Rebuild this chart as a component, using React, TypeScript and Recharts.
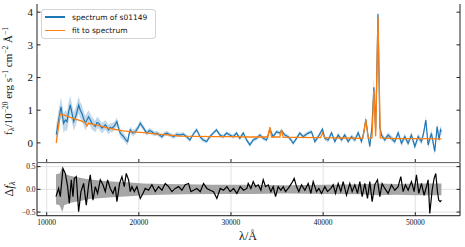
import React from 'react';
import { ComposedChart, Line, Area, XAxis, YAxis, CartesianGrid } from 'recharts';

// spectrum
const specWave = [
  11040, 11300, 11550, 11700, 11840, 12020, 12200, 12380, 12560, 12750, 12930, 13200, 13470, 13650, 13830,
  14000, 14190, 14370, 14550, 14730, 14910, 15100, 15280, 15460, 15640, 15820, 16000, 16180, 16360, 16540,
  16720, 16900, 17080, 17350, 17620, 17800, 17990, 18170, 18350, 18570, 18790, 18930, 19070, 19340, 19610,
  19880, 20160, 20340, 20520, 20700, 20880, 21150, 21420, 21690, 21960, 22230, 22510, 22780, 23050, 23400,
  23770, 24130, 24460, 24820, 25180, 25540, 25800, 26090, 26270, 26450, 26630, 26990, 27350, 27710, 28070,
  28430, 28800, 29160, 29520, 29880, 30240, 30600, 30960, 31330, 31690, 32050, 32410, 32770, 33130, 33500,
  33860, 34220, 34580, 34940, 35300, 35480, 35840, 36210, 36480, 36750, 37110, 37470, 37830, 38100, 38380,
  38740, 39100, 39460, 39930, 40180, 40550, 40910, 41270, 41630, 41990, 42350, 42710, 43080, 43440, 43800,
  44160, 44400, 44630, 44850, 45060, 45300, 45500, 45700, 45950, 46150, 46330, 46690, 47050, 47410, 47770,
  48140, 48500, 48860, 49220, 49580, 49950, 50310, 50670, 50900, 51140, 51390, 51750, 52110, 52370, 52580,
  52730, 52840,
];
const specFlux = [
  0.25, 0.7, 1.1, 0.85, 0.6, 0.7, 0.65, 0.95, 1.16, 0.9, 0.65, 0.85, 1.16, 1.0, 0.9,
  0.75, 0.6, 0.7, 0.8, 0.7, 0.6, 0.55, 0.5, 0.62, 0.6, 0.52, 0.45, 0.5, 0.55, 0.48,
  0.4, 0.48, 0.45, 0.52, 0.65, 0.45, 0.3, 0.24, 0.19, 0.1, 0.04, 0.25, 0.4, 0.3, 0.34,
  0.45, 0.6, 0.52, 0.45, 0.36, 0.3, 0.38, 0.34, 0.28, 0.3, 0.24, 0.19, 0.27, 0.3, 0.24,
  0.19, 0.26, 0.24, 0.27, 0.19, 0.09, 0.22, 0.34, 0.4, 0.3, 0.19, 0.09, 0.04, 0.19, 0.3,
  0.4, 0.24, 0.19, 0.3, 0.24, 0.19, 0.3, 0.14, 0.3, 0.09, -0.06, 0.09, 0.14, 0.24, 0.14,
  0.09, 0.42, 0.19, 0.34, 0.3, 0.38, 0.24, 0.19, 0.1, -0.01, 0.14, 0.3, 0.19, 0.25, 0.3,
  0.34, 0.04, 0.19, 0.42, 0.14, 0.09, 0.31, 0.04, 0.24, 0.09, 0.24, 0.04, 0.19, 0.09, 0.31,
  0.04, 0.3, 0.72, 0.25, -0.11, 0.5, 1.7, 0.4, 3.95, 0.5, 0.24, 0.09, 0.24, 0.14, 0.04,
  0.31, -0.01, 0.19, -0.01, 0.24, -0.11, 0.19, 0.04, 0.3, 0.7, -0.06, 0.29, -0.26, 0.5, 0.09,
  0.4, 0.35,
];
const specErr = [
  0.3, 0.3, 0.3, 0.3, 0.3, 0.3, 0.3, 0.3, 0.28, 0.28, 0.28, 0.28, 0.25, 0.25, 0.25,
  0.22, 0.22, 0.22, 0.2, 0.2, 0.2, 0.18, 0.18, 0.18, 0.16, 0.16, 0.16, 0.15, 0.15, 0.15,
  0.14, 0.14, 0.14, 0.13, 0.13, 0.12, 0.12, 0.12, 0.11, 0.11, 0.11, 0.1, 0.1, 0.1, 0.09,
  0.09, 0.09, 0.09, 0.08, 0.08, 0.08, 0.08, 0.08, 0.08, 0.07, 0.07, 0.07, 0.07, 0.07, 0.07,
  0.07, 0.07, 0.07, 0.06, 0.06, 0.06, 0.06, 0.06, 0.06, 0.06, 0.06, 0.06, 0.06, 0.06, 0.06,
  0.06, 0.06, 0.06, 0.06, 0.06, 0.06, 0.06, 0.06, 0.06, 0.06, 0.06, 0.06, 0.06, 0.06, 0.06,
  0.06, 0.07, 0.06, 0.06, 0.06, 0.06, 0.06, 0.06, 0.06, 0.06, 0.06, 0.06, 0.06, 0.06, 0.06,
  0.06, 0.07, 0.07, 0.07, 0.07, 0.07, 0.07, 0.07, 0.07, 0.07, 0.07, 0.07, 0.07, 0.08, 0.08,
  0.08, 0.08, 0.1, 0.08, 0.08, 0.1, 0.3, 0.1, 0.12, 0.1, 0.08, 0.08, 0.08, 0.08, 0.08,
  0.08, 0.09, 0.09, 0.09, 0.09, 0.1, 0.1, 0.1, 0.1, 0.12, 0.12, 0.12, 0.12, 0.12, 0.12,
  0.12, 0.12,
];

// model fit
const fitWave = [
  11040, 11470, 12000, 12560, 13100, 13660, 14190, 14370, 14550, 15200, 15800, 16600, 17440, 18300, 19250,
  20150, 21060, 22000, 22870, 24500, 26000, 28000, 30000, 32000, 34000, 34220, 34400, 35300, 35480, 35660,
  37000, 39700, 39930, 40150, 42000, 44300, 44630, 44900, 45300, 45500, 45700, 45950, 46200, 48000, 50000,
  52840,
];
const fitFlux = [
  0.0, 0.88, 0.84, 0.78, 0.73, 0.68, 0.62, 0.52, 0.6, 0.56, 0.52, 0.46, 0.41, 0.37, 0.34,
  0.32, 0.3, 0.27, 0.25, 0.21, 0.2, 0.19, 0.19, 0.18, 0.18, 0.48, 0.18, 0.18, 0.4, 0.17,
  0.17, 0.16, 0.3, 0.16, 0.15, 0.14, 0.7, 0.14, 0.15, 1.6, 0.2, 3.85, 0.15, 0.13, 0.13,
  0.12,
];

// residuals
const resWave = [
  11009, 11298, 11479, 11768, 12021, 12274, 12455, 12671, 12852, 12997, 13214, 13467, 13720, 14009, 14298,
  14551, 14732, 15021, 15274, 15527, 15817, 16106, 16359, 16612, 16901, 17190, 17443, 17624, 17913, 18166,
  18419, 18636, 18889, 19070, 19251, 19504, 19793, 20155, 20444, 20697, 21058, 21420, 21781, 22143, 22504,
  22866, 23227, 23589, 23950, 24312, 24673, 25035, 25396, 25649, 25939, 26300, 26662, 27023, 27385, 27746,
  28108, 28469, 28831, 29192, 29554, 29915, 30277, 30638, 31000, 31361, 31723, 31870, 32160, 32410, 32665,
  32954, 33243, 33496, 33749, 34039, 34328, 34581, 34834, 35123, 35412, 35665, 35918, 36208, 36569, 36858,
  37111, 37364, 37654, 38015, 38377, 38666, 38919, 39280, 39533, 39823, 40184, 40473, 40835, 41088, 41341,
  41630, 41919, 42172, 42534, 42895, 43148, 43438, 43727, 43980, 44233, 44522, 44811, 45064, 45317, 45607,
  45896, 46149, 46402, 46691, 47053, 47414, 47776, 48137, 48426, 48679, 48932, 49222, 49583, 49872, 50125,
  50378, 50668, 50957, 51210, 51391, 51572, 51825, 52041, 52222, 52403, 52547, 52692, 52836,
];
const resVal = [
  -0.16, 0.02, -0.16, 0.46, 0.35, 0.06, -0.31, 0.21, -0.16, 0.24, 0.28, -0.49, -0.05, 0.13, -0.35,
  0.1, 0.32, -0.24, 0.06, -0.09, 0.21, 0.1, -0.05, 0.21, 0.02, -0.09, 0.06, -0.27, 0.13, 0.28,
  0.06, 0.35, 0.21, -0.05, 0.06, -0.05, 0.06, -0.2, -0.09, 0.02, -0.02, 0.1, -0.05, 0.06, -0.02,
  0.13, 0.06, -0.05, 0.02, 0.06, -0.02, 0.1, 0.13, -0.05, -0.02, 0.02, -0.05, 0.13, 0.02, -0.02,
  -0.05, -0.2, 0.02, -0.02, 0.06, -0.05, 0.02, -0.09, 0.06, -0.02, 0.02, 0.13, 0.02, 0.17, 0.06,
  0.1, -0.02, 0.21, 0.06, 0.1, -0.05, 0.06, -0.16, 0.06, -0.02, 0.06, -0.05, 0.02, 0.13, 0.24,
  0.06, -0.05, 0.1, -0.02, 0.13, -0.09, 0.17, -0.05, 0.02, -0.09, 0.06, -0.05, 0.02, 0.1, -0.09,
  0.13, -0.05, 0.17, -0.13, 0.13, -0.05, 0.1, -0.09, 0.17, -0.16, 0.13, -0.2, 0.17, -0.27, 0.1,
  0.21, -0.16, 0.13, 0.02, -0.09, 0.1, -0.02, 0.06, 0.28, -0.05, 0.1, -0.02, 0.17, -0.05, 0.32,
  -0.09, 0.13, -0.13, 0.06, 0.21, -0.53, -0.02, 0.24, 0.35, -0.05, -0.24, -0.27, -0.24,
];
const bandWave = [
  11009, 11400, 11700, 11900, 12500, 13500, 14500, 16000, 17500, 19000, 20500, 22500, 25000, 28000, 32000,
  36000, 40000, 44000, 46000, 48000, 50000, 52000, 52836,
];
const bandErr = [
  0.33, 0.35, 0.5, 0.35, 0.3, 0.26, 0.22, 0.19, 0.17, 0.15, 0.13, 0.12, 0.11, 0.1, 0.1,
  0.09, 0.1, 0.11, 0.13, 0.12, 0.13, 0.13, 0.13,
];

const xTicks = [10000, 20000, 30000, 40000, 50000];
const fluxTicks = [0, 1, 2, 3, 4];
const resTicks = [-0.5, 0, 0.5];

const specData = specWave.map((w, i) => ({
  w,
  flux: specFlux[i],
  err: [specFlux[i] - specErr[i], specFlux[i] + specErr[i]],
}));
const fitData = fitWave.map((w, i) => ({ w, fit: fitFlux[i] }));
const resData = resWave.map((w, i) => ({ w, res: resVal[i] }));
const bandData = bandWave.map((w, i) => ({ w, band: [-bandErr[i], bandErr[i]] }));

const serif = '"Liberation Serif", "DejaVu Serif", serif';
const sans = '"DejaVu Sans", sans-serif';
const ink = '#222';
const TK = 3.5;
const xDomain = [8950, 54850];

const minus = (s: string) => s.replace('-', '\u2212');

// inward ticks, matplotlib style
const bottomTick = (labels: boolean) => (p: any) => (
  <g>
    <line x1={p.x} x2={p.x} y1={p.y} y2={p.y - TK} stroke={ink} />
    {labels && (
      <text x={p.x} y={p.y + 9} textAnchor="middle" fontSize={7.5} fontFamily={serif} fill="#111">
        {p.payload.value}
      </text>
    )}
  </g>
);
const topTick = (p: any) => <line x1={p.x} x2={p.x} y1={p.y} y2={p.y + TK} stroke={ink} />;
const rightTick = (p: any) => <line x1={p.x} x2={p.x - TK} y1={p.y} y2={p.y} stroke={ink} />;
const leftTick = (fs: number, fmt: (v: number) => string, gap: number) => (p: any) => (
  <g>
    <line x1={p.x} x2={p.x + TK} y1={p.y} y2={p.y} stroke={ink} />
    <text x={p.x - gap} y={p.y} dy="0.35em" textAnchor="end" fontSize={fs} fontFamily={serif} fill="#111">
      {fmt(p.payload.value)}
    </text>
  </g>
);

const App: React.FC = () => {
  return (
    <div style={{ position: 'absolute', left: 0, top: 0, width: 465, height: 247, background: '#fff' }}>
      {/* upper panel: spectrum + fit */}
      <div style={{ position: 'absolute', left: 0, top: 0 }}>
        <ComposedChart width={465} height={166} margin={{ top: 4, right: 0, bottom: 0, left: 0 }}>
          <XAxis xAxisId="b" type="number" dataKey="w" domain={xDomain} allowDataOverflow ticks={xTicks} interval={0}
            height={3.5} tickSize={0} tickMargin={0} tick={bottomTick(false)} tickLine={false} axisLine={{ stroke: ink }} />
          <XAxis xAxisId="t" orientation="top" type="number" dataKey="w" domain={xDomain} allowDataOverflow ticks={xTicks} interval={0}
            height={0} tickSize={0} tickMargin={0} tick={topTick} tickLine={false} axisLine={{ stroke: ink }} />
          <YAxis yAxisId="l" type="number" domain={[-0.6, 4.25]} allowDataOverflow ticks={fluxTicks} interval={0} width={37}
            tickSize={0} tickMargin={0} tick={leftTick(11, (v) => String(v), 4)} tickLine={false} axisLine={{ stroke: ink }} />
          <YAxis yAxisId="r" orientation="right" type="number" domain={[-0.6, 4.25]} allowDataOverflow ticks={fluxTicks} interval={0} width={5}
            tickSize={0} tickMargin={0} tick={rightTick} tickLine={false} axisLine={{ stroke: ink }} />
          <Area xAxisId="b" yAxisId="l" data={specData} dataKey="err" type="linear" stroke="none"
            fill="#1f77b4" fillOpacity={0.28} isAnimationActive={false} />
          <Line xAxisId="b" yAxisId="l" data={specData} dataKey="flux" type="linear" stroke="#1f77b4"
            strokeWidth={1.2} dot={false} isAnimationActive={false} />
          <Line xAxisId="b" yAxisId="l" data={fitData} dataKey="fit" type="linear" stroke="#ff7f0e"
            strokeWidth={1.3} dot={false} isAnimationActive={false} />
        </ComposedChart>
      </div>

      {/* lower panel: residuals */}
      <div style={{ position: 'absolute', left: 0, top: 162 }}>
        <ComposedChart width={465} height={85} margin={{ top: 1, right: 0, bottom: 0, left: 0 }}>
          <CartesianGrid xAxisId="b" yAxisId="l" stroke="#dadada" strokeWidth={0.8} />
          <XAxis xAxisId="b" type="number" dataKey="w" domain={xDomain} allowDataOverflow ticks={xTicks} interval={0}
            height={31.3} tickSize={0} tickMargin={0} tick={bottomTick(true)} tickLine={false} axisLine={{ stroke: ink }} />
          <XAxis xAxisId="t" orientation="top" type="number" dataKey="w" domain={xDomain} allowDataOverflow ticks={xTicks} interval={0}
            height={0} tickSize={0} tickMargin={0} tick={topTick} tickLine={false} axisLine={{ stroke: ink }} />
          <YAxis yAxisId="l" type="number" domain={[-0.58, 0.58]} allowDataOverflow ticks={resTicks} interval={0} width={37}
            tickSize={0} tickMargin={0} tick={leftTick(7.5, (v) => minus(v.toFixed(1)), 1.5)} tickLine={false} axisLine={{ stroke: ink }} />
          <YAxis yAxisId="r" orientation="right" type="number" domain={[-0.58, 0.58]} allowDataOverflow ticks={resTicks} interval={0} width={5}
            tickSize={0} tickMargin={0} tick={rightTick} tickLine={false} axisLine={{ stroke: ink }} />
          <Area xAxisId="b" yAxisId="l" data={bandData} dataKey="band" type="linear" stroke="none"
            fill="#a6a6a6" fillOpacity={1} isAnimationActive={false} />
          <Line xAxisId="b" yAxisId="l" data={resData} dataKey="res" type="linear" stroke="#000"
            strokeWidth={1.2} dot={false} isAnimationActive={false} />
        </ComposedChart>
      </div>

      {/* legend */}
      <div style={{
        position: 'absolute', left: 41, top: 9, width: 113, height: 28, border: '1px solid #d4d4d4',
        borderRadius: 3, background: 'rgba(255,255,255,0.85)', fontFamily: sans, fontSize: 7.5, color: '#111',
      }}>
        {[
          { name: 'spectrum of s01149', color: '#1f77b4' },
          { name: 'fit to spectrum', color: '#ff7f0e' },
        ].map((d, i) => (
          <div key={d.name} style={{ position: 'absolute', left: 3, top: 2 + i * 13.5, height: 10, display: 'flex', alignItems: 'center' }}>
            <div style={{ width: 20, height: 1.5, background: d.color }} />
            <span style={{ marginLeft: 7, whiteSpace: 'nowrap' }}>{d.name}</span>
          </div>
        ))}
      </div>

      {/* axis titles */}
      <svg width={465} height={247} style={{ position: 'absolute', left: 0, top: 0, pointerEvents: 'none' }}>
        <text transform="translate(12,81) rotate(-90)" textAnchor="middle" fontFamily={serif} fontSize={11} fill="#111">
          <tspan>f</tspan>
          <tspan dy={2} fontSize={8}>λ</tspan>
          <tspan dy={-2}>/10</tspan>
          <tspan dy={-4} fontSize={7.5}>−20</tspan>
          <tspan dy={4}> erg s</tspan>
          <tspan dy={-4} fontSize={7.5}>−1</tspan>
          <tspan dy={4}> cm</tspan>
          <tspan dy={-4} fontSize={7.5}>−2</tspan>
          <tspan dy={4}> Å</tspan>
          <tspan dy={-4} fontSize={7.5}>−1</tspan>
        </text>
        <text transform="translate(13,189) rotate(-90)" textAnchor="middle" fontFamily={serif} fontSize={12} fill="#111">
          <tspan>Δ</tspan>
          <tspan fontStyle="italic">f</tspan>
          <tspan dy={2} fontSize={8.5} fontStyle="italic">λ</tspan>
        </text>
        <text x={248} y={240} textAnchor="middle" fontFamily={serif} fontSize={12} fill="#111">
          λ/Å
        </text>
      </svg>
    </div>
  );
};

export default App;
